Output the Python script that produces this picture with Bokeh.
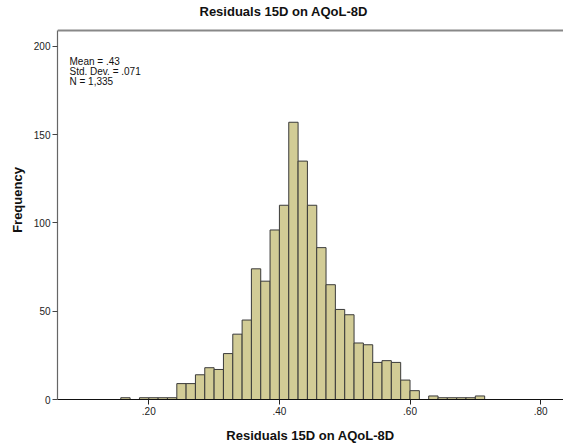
from bokeh.plotting import figure
from bokeh.models import Range1d, FixedTicker, Label, Span
from bokeh.embed import file_html
from bokeh.resources import INLINE

# ---- data ----
bin_width = 1 / 70
bin_left = [0.1571, 0.1714, 0.1857, 0.2000, 0.2143, 0.2286, 0.2429, 0.2571,
            0.2714, 0.2857, 0.3000, 0.3143, 0.3286, 0.3429, 0.3571, 0.3714,
            0.3857, 0.4000, 0.4143, 0.4286, 0.4429, 0.4571, 0.4714, 0.4857,
            0.5000, 0.5143, 0.5286, 0.5429, 0.5571, 0.5714, 0.5857, 0.6000,
            0.6143, 0.6286, 0.6429, 0.6571, 0.6714, 0.6857, 0.7000]
counts = [1, 0, 1, 1, 1, 1, 9, 9,
          14, 18, 17, 26, 37, 45, 74, 67,
          96, 110, 157, 135, 110, 86, 65, 51,
          48, 32, 31, 21, 22, 21, 11, 5,
          0, 2, 1, 1, 1, 1, 2]
x_ticks = [0.2, 0.4, 0.6, 0.8]
x_tick_labels = [".20", ".40", ".60", ".80"]
y_ticks = [0, 50, 100, 150, 200]
y_axis_max = 209
stats_lines = ["Mean = .43", "Std. Dev. = .071", "N = 1,335"]
title_text = "Residuals 15D on AQoL-8D"
x_label = "Residuals 15D on AQoL-8D"
y_label = "Frequency"

FONT = "Liberation Sans"
FILL = "#D2CC96"
EDGE = "#3a3a3a"

# frame runs to the top of the canvas; the chart box itself ends at y_axis_max
p = figure(width=563, height=445, output_backend="svg", toolbar_location=None,
           title=None,
           x_range=Range1d(0.0602, 0.835), y_range=Range1d(0, 225.95),
           min_border_left=57, min_border_right=0, min_border_top=0,
           min_border_bottom=45, background_fill_color="white",
           border_fill_color="white")

keep = [i for i, c in enumerate(counts) if c > 0]
lefts = [bin_left[i] for i in keep]
rights = [bin_left[i] + bin_width for i in keep]
tops = [counts[i] for i in keep]
p.quad(left=lefts, right=rights, bottom=0, top=tops,
       fill_color=FILL, line_color=EDGE, line_width=1)

p.grid.visible = False
p.outline_line_color = None

xa = p.xaxis[0]
xa.ticker = FixedTicker(ticks=x_ticks)
xa.major_label_overrides = {t: l for t, l in zip(x_ticks, x_tick_labels)}
xa.minor_tick_line_color = None
xa.major_tick_in = 0
xa.major_tick_out = 5
xa.major_tick_line_color = "#222222"
xa.axis_line_color = "#111111"
xa.axis_line_width = 1.2
xa.major_label_text_font = FONT
xa.major_label_text_font_size = "10px"
xa.major_label_text_color = "#222222"
xa.major_label_standoff = 2
xa.axis_label = x_label
xa.axis_label_text_font = FONT
xa.axis_label_text_font_size = "13px"
xa.axis_label_text_font_style = "bold"
xa.axis_label_text_color = "#111111"
xa.axis_label_standoff = 10

ya = p.yaxis[0]
ya.ticker = FixedTicker(ticks=y_ticks)
ya.bounds = (0, y_axis_max)
ya.minor_tick_line_color = None
ya.major_tick_in = 0
ya.major_tick_out = 5
ya.major_tick_line_color = "#444444"
ya.axis_line_color = "#666666"
ya.axis_line_width = 1.2
ya.major_label_text_font = FONT
ya.major_label_text_font_size = "10px"
ya.major_label_text_color = "#222222"
ya.major_label_standoff = 2
ya.axis_label = y_label
ya.axis_label_text_font = FONT
ya.axis_label_text_font_size = "13px"
ya.axis_label_text_font_style = "bold"
ya.axis_label_text_color = "#111111"
ya.axis_label_standoff = 6

# top edge of the chart box
p.add_layout(Span(location=y_axis_max, dimension="width",
                  line_color="#888888", line_width=2))

# chart title
p.add_layout(Label(x=142, y=388, x_units="screen", y_units="screen",
                   text=title_text, text_font=FONT, text_font_size="13px",
                   text_font_style="bold", text_color="#111111",
                   text_baseline="middle"))

for i, line in enumerate(stats_lines):
    p.add_layout(Label(x=12, y=338 - i * 9.8, x_units="screen", y_units="screen",
                       text=line, text_font=FONT, text_font_size="10px",
                       text_color="#111111", text_baseline="middle"))

open("out.html", "w").write(file_html(p, INLINE))
